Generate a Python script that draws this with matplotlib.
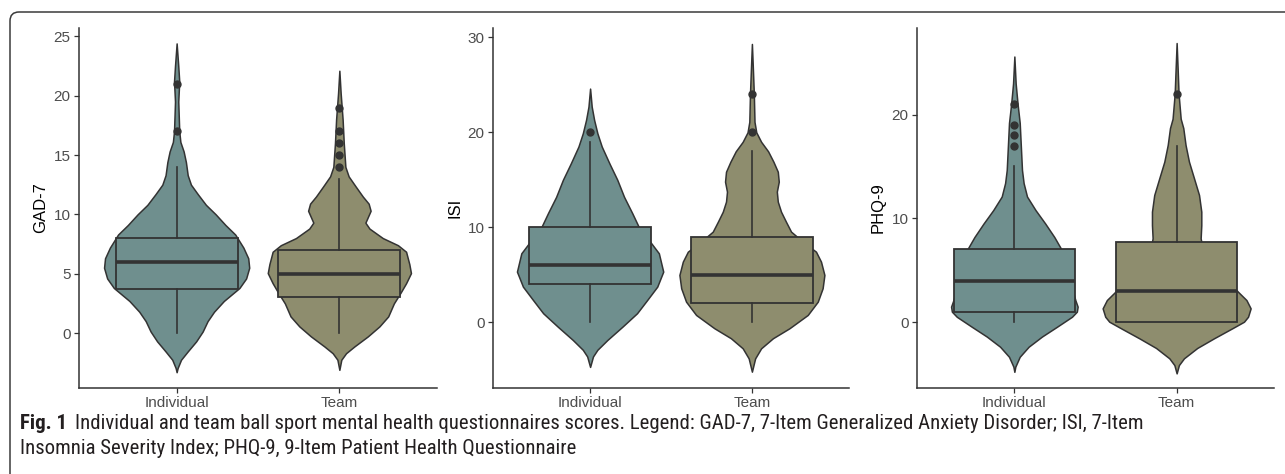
import matplotlib
matplotlib.use("Agg")
import matplotlib.pyplot as plt
import numpy as np
from matplotlib.patches import FancyBboxPatch
from matplotlib.transforms import IdentityTransform

# ---------------- data ----------------
categories = ["Individual", "Team"]
measures = ["GAD-7", "ISI", "PHQ-9"]
yticks = {"GAD-7": [0, 5, 10, 15, 20, 25], "ISI": [0, 10, 20, 30], "PHQ-9": [0, 10, 20]}

# box statistics: whislo, q1, median, q3, whishi
gad_ind_box = [0, 3.75, 6, 8, 14]
gad_team_box = [0, 3, 5, 7, 13]
isi_ind_box = [0, 4, 6, 10, 19]
isi_team_box = [0, 2, 5, 9, 18]
phq_ind_box = [0, 1, 4, 7, 15]
phq_team_box = [0, 0, 3, 7.75, 17]

gad_ind_out = [17, 21]
gad_team_out = [14, 15, 16, 17, 19]
isi_ind_out = [20]
isi_team_out = [20, 24]
phq_ind_out = [17, 18, 19, 21]
phq_team_out = [22]

# violin density profiles (score level, half width in category units)
gad_ind_y = [-3.3, -2.95, -2.25, -1.55, -0.7, 0.13, 1.0, 1.8, 2.7, 3.8, 4.6, 5.5, 6.3, 7.2, 8.3, 9.1,
             10.0, 10.8, 11.7, 12.5, 13.3, 14.4, 15.3, 16.1, 17.0, 19.5, 21.2, 22.5, 24.4]
gad_ind_w = [0, 0.006, 0.027, 0.068, 0.12, 0.16, 0.19, 0.23, 0.29, 0.386, 0.427, 0.446, 0.44, 0.41, 0.36, 0.30,
             0.24, 0.18, 0.13, 0.088, 0.068, 0.057, 0.043, 0.023, 0.016, 0.01, 0.016, 0.01, 0]
gad_team_y = [-3.1, -2.25, -1.7, -1.13, -0.28, 0.56, 1.4, 2.5, 3.4, 4.2, 5.05, 5.8, 6.85, 7.4, 8.0, 8.8,
              9.3, 10.3, 10.9, 11.5, 12.35, 13.2, 14.0, 16.0, 18.0, 20.2, 22.1]
gad_team_w = [0, 0.012, 0.041, 0.092, 0.175, 0.246, 0.30, 0.335, 0.376, 0.41, 0.44, 0.43, 0.41, 0.36, 0.267, 0.185,
              0.16, 0.192, 0.18, 0.144, 0.10, 0.057, 0.037, 0.027, 0.02, 0.008, 0]
isi_ind_y = [-4.7, -3.6, -2.9, -1.86, -0.46, 0.95, 2.35, 3.75, 5.33, 7.26, 8.66, 10.06, 11.5, 13.2, 15.0,
             16.7, 18.5, 19.9, 21.3, 22.7, 24.6]
isi_ind_w = [0, 0.018, 0.045, 0.107, 0.2, 0.29, 0.353, 0.415, 0.452, 0.425, 0.363, 0.30, 0.26, 0.21, 0.168,
             0.12, 0.072, 0.045, 0.025, 0.01, 0]
isi_team_y = [-5.2, -3.8, -2.74, -1.68, -0.63, 0.77, 2.17, 3.58, 4.98, 6.38, 7.43, 8.5, 9.54, 10.6, 11.64,
              12.7, 13.75, 14.8, 15.85, 16.9, 18.0, 19.0, 20.0, 21.1, 24.0, 26.7, 29.3]
isi_team_w = [0, 0.02, 0.057, 0.13, 0.232, 0.345, 0.407, 0.437, 0.448, 0.427, 0.396, 0.314, 0.242, 0.21, 0.18,
              0.16, 0.154, 0.166, 0.16, 0.133, 0.1, 0.057, 0.027, 0.016, 0.012, 0.006, 0]
phq_ind_y = [-4.8, -4.3, -3.35, -2.38, -1.4, -0.45, 0.51, 1.0, 1.48, 2.1, 3.0, 4.0, 5.0, 6.0, 7.0, 8.2, 9.5,
             10.8, 12.1, 13.4, 14.66, 16.6, 19.2, 21.0, 23.0, 25.6]
phq_ind_w = [0, 0.006, 0.033, 0.088, 0.17, 0.263, 0.355, 0.385, 0.39, 0.376, 0.36, 0.345, 0.33, 0.315, 0.29,
             0.246, 0.19, 0.13, 0.078, 0.057, 0.047, 0.041, 0.033, 0.02, 0.008, 0]
phq_team_y = [-4.95, -4.15, -3.5, -2.5, -1.57, -0.6, 0.03, 0.51, 1.32, 2.12, 2.92, 3.6, 4.5, 5.5, 6.5, 7.5,
              8.07, 9.35, 10.64, 12.25, 13.86, 15.46, 17.07, 18.7, 19.6, 22.0, 24.5, 26.9]
phq_team_w = [0, 0.014, 0.045, 0.127, 0.23, 0.343, 0.415, 0.44, 0.456, 0.43, 0.378, 0.34, 0.29, 0.23, 0.18,
              0.155, 0.148, 0.152, 0.152, 0.138, 0.107, 0.076, 0.055, 0.041, 0.025, 0.012, 0.006, 0]

caption_bold = "Fig. 1"
caption_line1 = ("Individual and team ball sport mental health questionnaires scores. "
                 "Legend: GAD-7, 7-Item Generalized Anxiety Disorder; ISI, 7-Item")
caption_line2 = "Insomnia Severity Index; PHQ-9, 9-Item Patient Health Questionnaire"

# ---------------- style ----------------
W, H = 1285, 474
fill_colors = ["#6F8F8E", "#8E8D6E"]
line_col = "#333333"
ui_font = ["Liberation Sans", "DejaVu Sans"]
cap_font = ["Roboto Condensed", "Liberation Sans Narrow", "Liberation Sans", "DejaVu Sans"]

panels = [
    ("GAD-7", [gad_ind_box, gad_team_box], [gad_ind_out, gad_team_out],
     [(gad_ind_y, gad_ind_w), (gad_team_y, gad_team_w)], (-4.63, 25.7)),
    ("ISI", [isi_ind_box, isi_team_box], [isi_ind_out, isi_team_out],
     [(isi_ind_y, isi_ind_w), (isi_team_y, isi_team_w)], (-6.92, 30.98)),
    ("PHQ-9", [phq_ind_box, phq_team_box], [phq_ind_out, phq_team_out],
     [(phq_ind_y, phq_ind_w), (phq_team_y, phq_team_w)], (-6.36, 28.35)),
]
axes_px = [(79, 437), (493, 849), (917, 1274)]
ax_bottom_px, ax_top_px = 388, 28

fig = plt.figure(figsize=(W / 100, H / 100), dpi=100)
fig.patch.set_facecolor("white")

positions = [1, 2]
for (name, boxes, outs, profiles, ylim), (x0, x1) in zip(panels, axes_px):
    ax = fig.add_axes([x0 / W, (H - ax_bottom_px) / H, (x1 - x0) / W, (ax_bottom_px - ax_top_px) / H])
    # violins
    vstats = []
    vwidths = []
    for (yy, ww) in profiles:
        yy = np.asarray(yy, float)
        ww = np.asarray(ww, float)
        vstats.append(dict(coords=yy, vals=ww, mean=0, median=0, min=yy.min(), max=yy.max()))
        vwidths.append(2 * ww.max())
    vp = ax.violin(vstats, positions=positions, widths=vwidths, showmeans=False,
                   showextrema=False, showmedians=False)
    for body, fc in zip(vp["bodies"], fill_colors):
        body.set_facecolor(fc)
        body.set_edgecolor(line_col)
        body.set_alpha(1)
        body.set_linewidth(1.1)
        body.set_joinstyle("round")
        body.set_zorder(1)
    # boxplots
    bstats = []
    for b, o, lab in zip(boxes, outs, categories):
        bstats.append(dict(whislo=b[0], q1=b[1], med=b[2], q3=b[3], whishi=b[4], fliers=o, label=lab))
    bp = ax.bxp(bstats, positions=positions, widths=0.75, patch_artist=True, showcaps=False,
                showfliers=True,
                boxprops=dict(edgecolor=line_col, linewidth=1.3),
                whiskerprops=dict(color=line_col, linewidth=1.2),
                medianprops=dict(color=line_col, linewidth=2.6, solid_capstyle="butt"),
                flierprops=dict(marker="o", markerfacecolor=line_col, markeredgecolor=line_col,
                                markersize=5, linestyle="none"))
    for patch, fc in zip(bp["boxes"], fill_colors):
        patch.set_facecolor(fc)
    ax.set_xlim(0.4, 2.6)
    ax.set_ylim(*ylim)
    ax.set_xticks(positions)
    ax.set_xticklabels(categories)
    ax.set_yticks(yticks[name])
    for s in ["top", "right"]:
        ax.spines[s].set_visible(False)
    for s in ["left", "bottom"]:
        ax.spines[s].set_color(line_col)
        ax.spines[s].set_linewidth(1.1)
    ax.tick_params(axis="both", length=3.5, width=0.9, color=line_col, labelcolor="#4D4D4D",
                   labelsize=11, pad=2.5)
    for lab in ax.get_xticklabels() + ax.get_yticklabels():
        lab.set_family(ui_font)
    ax.set_ylabel(name, fontsize=12, family=ui_font, color="black", labelpad=4)
    ax.set_facecolor("none")

# border with rounded corner
border = FancyBboxPatch((10, -40), 1320, 462 + 40, boxstyle="round,pad=0,rounding_size=9",
                        transform=IdentityTransform(), facecolor="none", edgecolor="#3a3a3a",
                        linewidth=1.1, figure=fig)
fig.patches.append(border)

# caption
fig.canvas.draw()
renderer = fig.canvas.get_renderer()
fs = 12.0
x_start = 20
y1_base = H - 429
y2_base = H - 454


def place(fsz):
    tb = fig.text(x_start / W, y1_base / H, caption_bold, fontsize=fsz, weight="bold",
                  family=cap_font, va="baseline", ha="left", color="#231F20")
    bb = tb.get_window_extent(renderer)
    t1 = fig.text((bb.x1 + 0.55 * fsz) / W, y1_base / H, caption_line1, fontsize=fsz,
                  family=cap_font, va="baseline", ha="left", color="#231F20")
    t2 = fig.text(x_start / W, y2_base / H, caption_line2, fontsize=fsz,
                  family=cap_font, va="baseline", ha="left", color="#231F20")
    return tb, t1, t2


tb, t1, t2 = place(fs)
end = t1.get_window_extent(renderer).x1
target = 1142
fs2 = fs * (target - x_start) / (end - x_start)
for t in (tb, t1, t2):
    t.remove()
place(fs2)

fig.savefig("out.png", dpi=100)
